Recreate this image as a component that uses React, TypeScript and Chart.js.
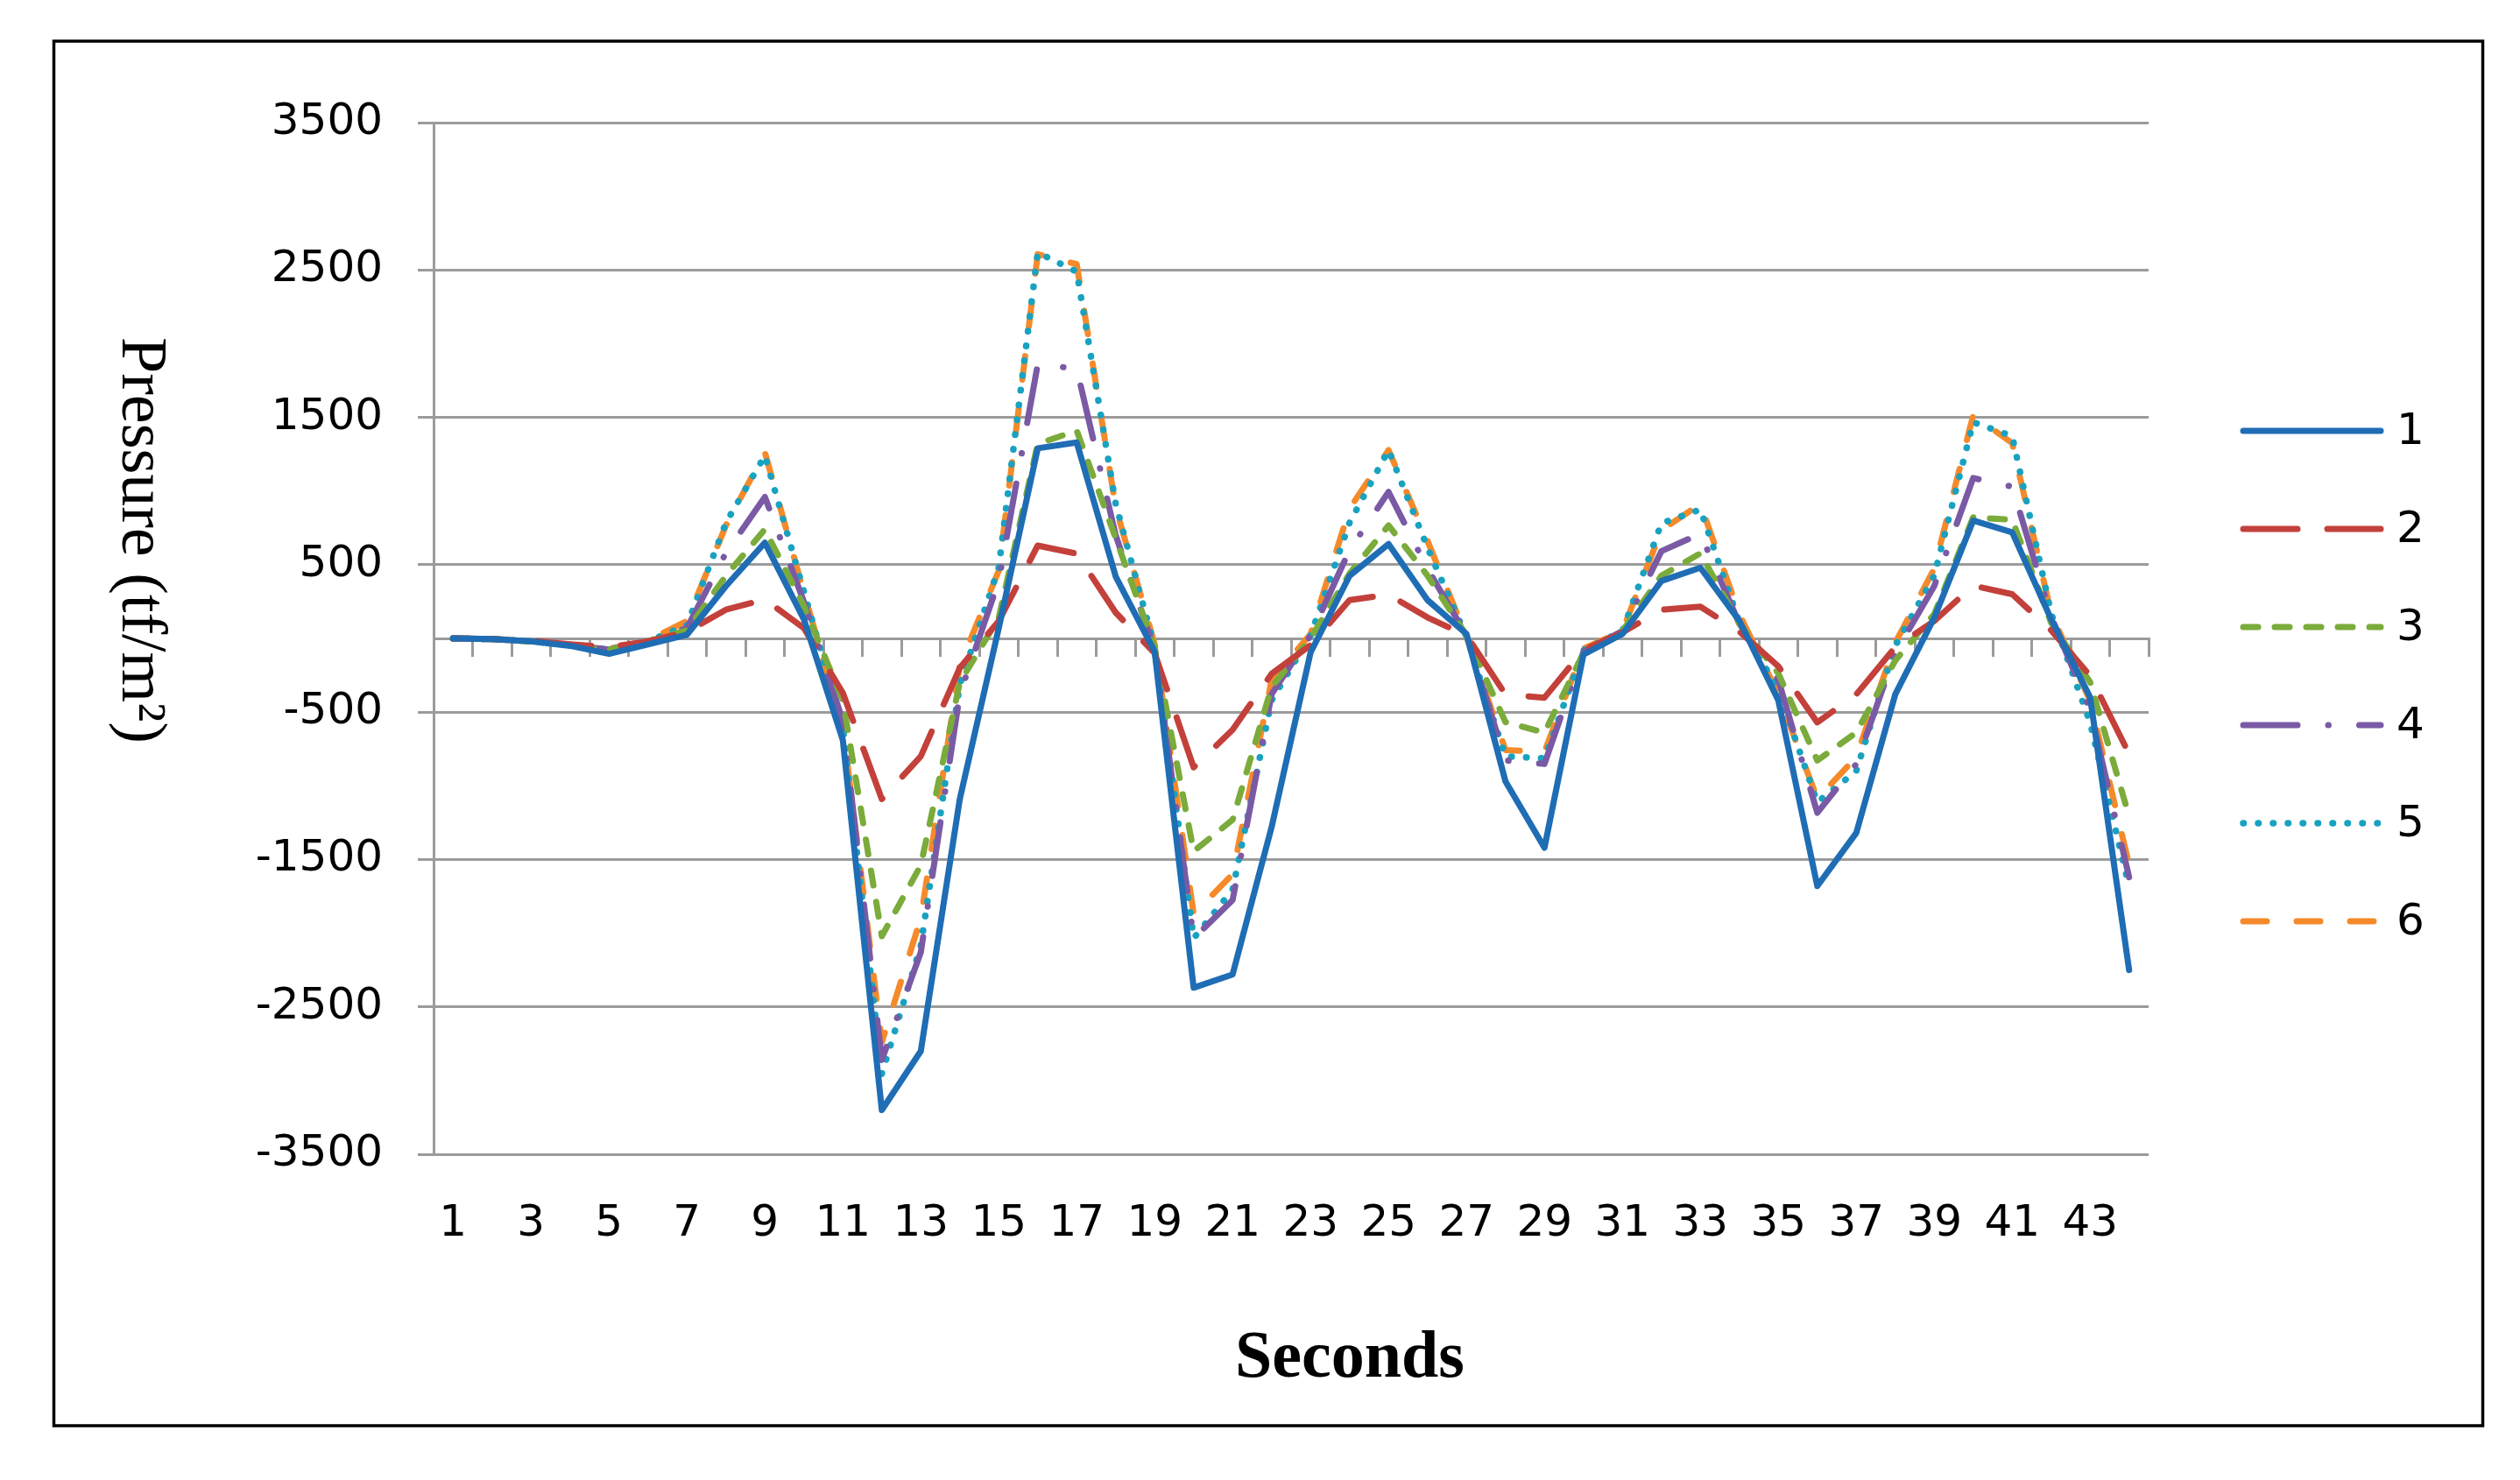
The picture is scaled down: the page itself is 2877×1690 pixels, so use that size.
import React, { useEffect, useRef } from 'react';
import { Chart, registerables } from 'chart.js';

Chart.register(...registerables);

const seconds = ['1','2','3','4','5','6','7','8','9','10','11','12','13','14','15','16','17','18','19','20','21','22','23','24','25','26','27','28','29','30','31','32','33','34','35','36','37','38','39','40','41','42','43','44'];
const yTickValues = [-3500, -2500, -1500, -500, 500, 1500, 2500, 3500];
const seriesNames = ['1', '2', '3', '4', '5', '6'];

const series1 = [0, -5, -20, -50, -105, -40, 25, 355, 650, 130, -690, -3200, -2800, -1090, 70, 1290, 1330, 420, -90, -2370, -2280, -1280, -95, 425, 640, 260, 30, -970, -1420, -110, 30, 390, 480, 120, -420, -1680, -1320, -380, 140, 800, 720, 130, -400, -2250];
const series2 = [0, -5, -15, -40, -60, -20, 45, 195, 265, 70, -370, -1090, -800, -200, 118, 630, 575, 175, -100, -875, -620, -240, -45, 260, 298, 142, 20, -380, -402, -80, 40, 195, 215, 47, -189, -570, -380, -60, 118, 358, 300, 55, -254, -784];
const series3 = [0, -5, -20, -45, -75, -20, 55, 425, 740, 220, -420, -2020, -1540, -300, 140, 1320, 1410, 680, -60, -1445, -1230, -330, 0, 440, 767, 426, 20, -568, -639, -100, 50, 426, 577, 100, -237, -828, -639, -150, 165, 822, 805, 106, -297, -1208];
const series4 = [0, -5, -20, -45, -75, -20, 70, 580, 960, 250, -560, -2860, -2130, -380, 390, 1860, 1830, 700, -80, -2035, -1775, -378, 20, 600, 994, 473, 20, -828, -852, -90, 50, 592, 710, 100, -280, -1183, -852, -100, 355, 1088, 1030, 148, -487, -1620];
const series5 = [0, -5, -20, -45, -75, -20, 90, 785, 1240, 320, -600, -2955, -2085, -314, 482, 2618, 2489, 914, -60, -2035, -1704, -420, 20, 785, 1278, 615, 10, -800, -814, -80, 50, 781, 875, 110, -350, -1112, -900, -50, 426, 1467, 1372, 170, -572, -1684];
const series6 = [0, -5, -20, -45, -70, -15, 119, 766, 1262, 311, -600, -2740, -1900, -184, 459, 2607, 2539, 891, -40, -1870, -1600, -284, 30, 880, 1278, 662, 10, -757, -770, -70, 50, 734, 913, 165, -379, -1088, -805, -30, 473, 1514, 1325, 170, -424, -1536];

const yTitle = 'Pressure (tf/m\u00B2)';
const xTitle = 'Seconds';

const GRID = '#9b9b9b';
const TICK_FONT = 'DejaVu Sans';

const styles = [
  { color: '#1f6db4', width: 7, dash: [] as number[], cap: 'round' },
  { color: '#c3403b', width: 7, dash: [62, 34], cap: 'round' },
  { color: '#7aab3b', width: 7, dash: [17, 19], cap: 'round' },
  { color: '#7a5aa5', width: 7, dash: [62, 35, 0.5, 35], cap: 'round' },
  { color: '#18a2c0', width: 7.5, dash: [0.5, 16.5], cap: 'round' },
  { color: '#f58a2b', width: 7, dash: [27, 34], cap: 'round' },
];

const allSeries = [series1, series2, series3, series4, series5, series6];

const decorPlugin = {
  id: 'decor',
  afterDraw(chart: any) {
    const ctx = chart.ctx as CanvasRenderingContext2D;
    ctx.save();
    // outer frame
    ctx.strokeStyle = '#000';
    ctx.lineWidth = 3.5;
    ctx.setLineDash([]);
    ctx.strokeRect(61.5, 47, 2773, 1581);

    // y title (rotated clockwise)
    ctx.save();
    ctx.translate(140, 617);
    ctx.rotate(Math.PI / 2);
    ctx.fillStyle = '#000';
    ctx.font = '74px "Liberation Serif"';
    ctx.textAlign = 'center';
    ctx.textBaseline = 'alphabetic';
    ctx.fillText(yTitle, 0, 0);
    ctx.restore();

    // x title
    ctx.fillStyle = '#000';
    ctx.font = 'bold 76px "Liberation Serif"';
    ctx.textAlign = 'center';
    ctx.textBaseline = 'alphabetic';
    ctx.fillText(xTitle, 1541, 1572);

    // legend
    const rows = [492, 604, 716, 828, 940, 1052];
    chart.data.datasets.forEach((ds: any, i: number) => {
      const st = styles[i];
      const y = rows[i];
      ctx.save();
      ctx.strokeStyle = st.color;
      ctx.lineWidth = st.width;
      ctx.lineCap = st.cap as CanvasLineCap;
      ctx.setLineDash(st.dash);
      ctx.beginPath();
      ctx.moveTo(2561, y);
      ctx.lineTo(2718, y);
      ctx.stroke();
      ctx.restore();
      ctx.fillStyle = '#000';
      ctx.font = `50px "${TICK_FONT}"`;
      ctx.textAlign = 'left';
      ctx.textBaseline = 'middle';
      ctx.fillText(ds.label, 2736, y + 2);
    });
    ctx.restore();
  },
};

export default function App() {
  const canvasRef = useRef<HTMLCanvasElement | null>(null);

  useEffect(() => {
    const canvas = canvasRef.current;
    if (!canvas) return;
    const chart = new Chart(canvas, {
      type: 'line',
      data: {
        labels: seconds,
        datasets: allSeries.map((data, i) => ({
          label: seriesNames[i],
          data,
          borderColor: styles[i].color,
          backgroundColor: styles[i].color,
          borderWidth: styles[i].width,
          borderDash: styles[i].dash,
          borderCapStyle: styles[i].cap as any,
          borderJoinStyle: 'round' as any,
          pointRadius: 0,
          pointHoverRadius: 0,
          tension: 0,
          fill: false,
          xAxisID: 'x',
          yAxisID: 'y',
        })),
      },
      options: {
        animation: false,
        responsive: true,
        maintainAspectRatio: false,
        devicePixelRatio: 1,
        layout: { padding: { left: 0, top: 140, right: 424, bottom: 262 } },
        plugins: {
          legend: { display: false },
          tooltip: { enabled: false },
          title: { display: false },
        },
        scales: {
          x: {
            type: 'category',
            position: 'bottom',
            offset: true,
            grid: { display: false, drawTicks: false },
            border: { display: false },
            ticks: {
              autoSkip: false,
              maxRotation: 0,
              minRotation: 0,
              padding: 50,
              color: '#000',
              font: { family: TICK_FONT, size: 50 },
              callback: (_v: any, i: number) => (i % 2 === 0 ? seconds[i] : ''),
            },
            afterFit: (s: any) => { s.height = 110; },
          },
          x0: {
            type: 'category',
            axis: 'x',
            position: { y: 0 } as any,
            offset: true,
            grid: {
              display: true,
              offset: true,
              drawOnChartArea: false,
              drawTicks: true,
              tickLength: 19,
              color: GRID,
              lineWidth: 3,
            },
            border: { display: true, color: GRID, width: 3 },
            ticks: { display: false },
          },
          y: {
            type: 'linear',
            position: 'left',
            min: -3500,
            max: 3500,
            afterBuildTicks: (s: any) => { s.ticks = yTickValues.map((v) => ({ value: v })); },
            grid: { color: GRID, lineWidth: 3, drawTicks: true, tickLength: 18 },
            border: { display: true, color: GRID, width: 3 },
            ticks: {
              padding: 40,
              color: '#000',
              font: { family: TICK_FONT, size: 50 },
              callback: (v: any) => String(v),
            },
            afterFit: (s: any) => { s.width = 495; },
          },
        } as any,
      },
      plugins: [decorPlugin],
    });
    return () => chart.destroy();
  }, []);

  return (
    <div style={{ position: 'fixed', left: 0, top: 0, width: '2877px', height: '1690px', background: '#fff' }}>
      <canvas ref={canvasRef} />
    </div>
  );
}
